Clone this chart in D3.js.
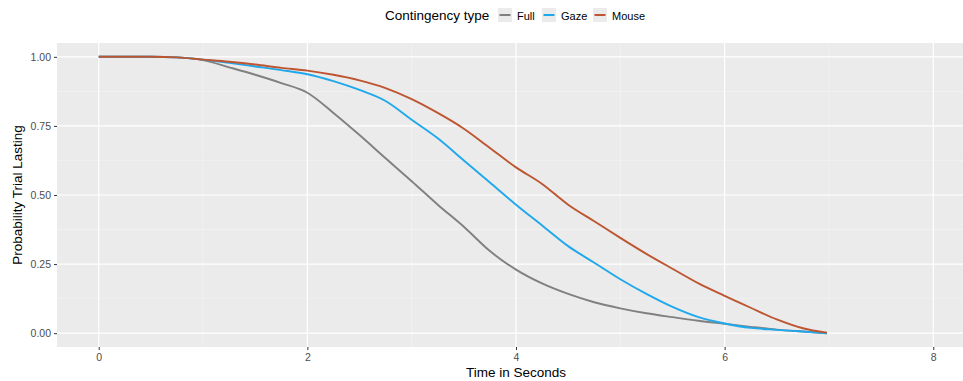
<!DOCTYPE html>
<html>
<head>
<meta charset="utf-8">
<script src="https://cdn.jsdelivr.net/npm/d3@7"></script>
<style>
  body { margin: 0; background: #fff; }
  svg { font-family: "Liberation Sans", Arial, sans-serif; display: block; }
</style>
</head>
<body>
<svg id="chart" width="963" height="381"></svg>
<script>
// time points (seconds)
var times = [0, 0.25, 0.5, 0.75, 1.0, 1.25, 1.5, 1.75, 2.0, 2.25, 2.5, 2.75, 3.0, 3.25, 3.5,
             3.75, 4.0, 4.25, 4.5, 4.75, 5.0, 5.25, 5.5, 5.75, 6.0, 6.25, 6.5, 6.75, 6.98];
var fullVals  = [1, 1, 1, 0.998, 0.988, 0.962, 0.935, 0.905, 0.870, 0.797, 0.717, 0.633, 0.550, 0.465, 0.385,
                 0.297, 0.230, 0.180, 0.142, 0.112, 0.090, 0.072, 0.058, 0.045, 0.034, 0.023, 0.013, 0.006, 0.0];
var gazeVals  = [1, 1, 1, 0.998, 0.990, 0.978, 0.965, 0.952, 0.937, 0.912, 0.880, 0.840, 0.772, 0.705, 0.625,
                 0.545, 0.465, 0.390, 0.315, 0.255, 0.195, 0.142, 0.095, 0.058, 0.035, 0.019, 0.012, 0.006, 0.0];
var mouseVals = [1, 1, 1, 0.998, 0.990, 0.982, 0.972, 0.960, 0.950, 0.935, 0.915, 0.887, 0.847, 0.797, 0.740,
                 0.670, 0.600, 0.540, 0.465, 0.405, 0.345, 0.287, 0.233, 0.180, 0.135, 0.092, 0.050, 0.018, 0.002];
var seriesNames = ["Full", "Gaze", "Mouse"];
var seriesColors = ["#808080", "#1fa8ec", "#bd5530"];
var xTicks = [0, 2, 4, 6, 8];
var yTicks = [0, 0.25, 0.5, 0.75, 1];

var series = [fullVals, gazeVals, mouseVals].map(function (vals, i) {
    return { name: seriesNames[i], color: seriesColors[i],
             pts: vals.map(function (v, j) { return [times[j], v]; }) };
});

var svg = d3.select("#chart");
var panel = { left: 57, right: 975, top: 43, bottom: 347 };

var x = d3.scaleLinear().domain([-0.4, 8.4]).range([panel.left, panel.right]);
var y = d3.scaleLinear().domain([-0.05, 1.05]).range([panel.bottom, panel.top]);

svg.append("rect")
    .attr("x", panel.left).attr("y", panel.top)
    .attr("width", panel.right - panel.left).attr("height", panel.bottom - panel.top)
    .attr("fill", "#ebebeb");

// minor grid
var g = svg.append("g");
[1, 3, 5, 7].forEach(function (v) {
    g.append("line").attr("x1", x(v)).attr("x2", x(v))
        .attr("y1", panel.top).attr("y2", panel.bottom)
        .attr("stroke", "#f5f5f5").attr("stroke-width", 0.6);
});
[0.125, 0.375, 0.625, 0.875].forEach(function (v) {
    g.append("line").attr("x1", panel.left).attr("x2", panel.right)
        .attr("y1", y(v)).attr("y2", y(v))
        .attr("stroke", "#f5f5f5").attr("stroke-width", 0.6);
});
// major grid
xTicks.forEach(function (v) {
    g.append("line").attr("x1", x(v)).attr("x2", x(v))
        .attr("y1", panel.top).attr("y2", panel.bottom)
        .attr("stroke", "#fff").attr("stroke-width", 1.2);
});
yTicks.forEach(function (v) {
    g.append("line").attr("x1", panel.left).attr("x2", panel.right)
        .attr("y1", y(v)).attr("y2", y(v))
        .attr("stroke", "#fff").attr("stroke-width", 1.2);
});

// axes
var xAxis = svg.append("g").attr("transform", "translate(0," + panel.bottom + ")")
    .call(d3.axisBottom(x).tickValues(xTicks).tickSize(3).tickPadding(4).tickFormat(d3.format("d")));
var yAxis = svg.append("g").attr("transform", "translate(" + panel.left + ",0)")
    .call(d3.axisLeft(y).tickValues(yTicks).tickSize(3).tickPadding(3).tickFormat(d3.format(".2f")));
[xAxis, yAxis].forEach(function (a) {
    a.select(".domain").remove();
    a.selectAll(".tick line").attr("stroke", "#333").attr("stroke-width", 1);
    a.selectAll(".tick text").attr("fill", "#4d4d4d").style("font-size", "10.5px");
});

// lines
var line = d3.line()
    .x(function (d) { return x(d[0]); })
    .y(function (d) { return y(d[1]); })
    .curve(d3.curveMonotoneX);

svg.append("g").selectAll("path").data(series).join("path")
    .attr("d", function (d) { return line(d.pts); })
    .attr("fill", "none")
    .attr("stroke", function (d) { return d.color; })
    .attr("stroke-width", 1.9);

// axis titles
svg.append("text").attr("x", x(4)).attr("y", 377)
    .attr("text-anchor", "middle").style("font-size", "13.5px").attr("fill", "#000")
    .text("Time in Seconds");
svg.append("text")
    .attr("transform", "translate(22," + y(0.5) + ") rotate(-90)")
    .attr("text-anchor", "middle").style("font-size", "13.5px").attr("fill", "#000")
    .text("Probability Trial Lasting");

// legend
var legend = svg.append("g");
legend.append("text").attr("x", 385).attr("y", 20)
    .style("font-size", "13.5px").attr("fill", "#000").text("Contingency type");
var keyX = [498, 542, 593];
series.forEach(function (s, i) {
    var k = legend.append("g").attr("transform", "translate(" + keyX[i] + ",8)");
    k.append("rect").attr("width", 14).attr("height", 14).attr("fill", "#ebebeb");
    k.append("line").attr("x1", 1.5).attr("x2", 12.5).attr("y1", 7).attr("y2", 7)
        .attr("stroke", s.color).attr("stroke-width", 2);
    k.append("text").attr("x", 19).attr("y", 11.5)
        .style("font-size", "11px").attr("fill", "#000").text(s.name);
});
</script>
</body>
</html>
